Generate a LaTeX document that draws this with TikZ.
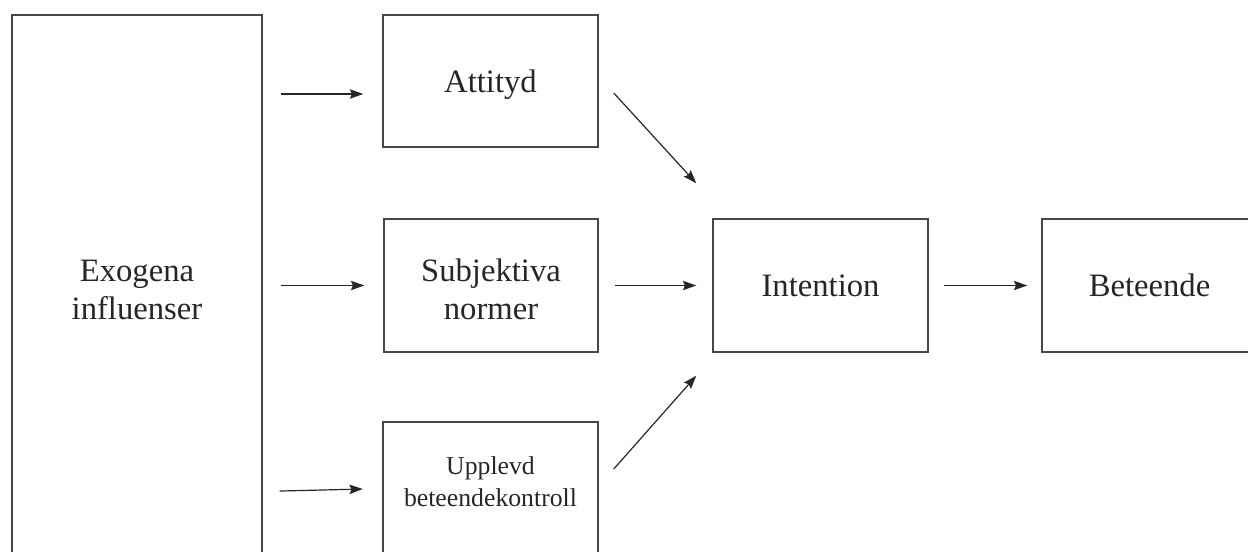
\documentclass[tikz,border=0pt]{standalone}
\usepackage{fontspec}
\setmainfont{Liberation Serif}
\usetikzlibrary{arrows.meta}
\tikzset{
  box/.style={draw=black!72, line width=1.1pt, rectangle, align=center, inner sep=0pt,
    font=\fontsize{24.5}{28.5}\selectfont, text=black!85},
  arr/.style={draw=black!85, line width=0.9pt, -{Stealth[length=10pt,width=7pt,inset=1.5pt]}},
}
\begin{document}
\begin{tikzpicture}[x=0.75pt,y=-0.75pt]
\useasboundingbox (0,0) rectangle (1248,552);
\clip (0,0) rectangle (1248,552);
\node[box, minimum width=187.5pt, minimum height=412.5pt] (exo) at (137,290) {Exogena\\influenser};
\node[box, minimum width=161.25pt, minimum height=99pt, text depth=0pt] (att) at (490.5,81) {Attityd};
\node[box, minimum width=160.5pt, minimum height=99.75pt] (subj) at (491,285.5) {\rule{0pt}{23pt}Subjektiva\\normer};
\node[box, minimum width=161.25pt, minimum height=99.75pt, font=\fontsize{19.3}{24.3}\selectfont, text depth=10pt] (upp) at (490.5,488.5) {Upplevd\\beteendekontroll};
\node[box, minimum width=161.25pt, minimum height=99.75pt] (int) at (820.5,285.5) {Intention};
\node[box, minimum width=161.25pt, minimum height=99.75pt] (bet) at (1149.5,285.5) {Beteende};

\draw[arr] ([shift={(13.5pt,-9.75pt)}]exo.east |- att.west) -- ([shift={(-14.25pt,-9.75pt)}]att.west);
\draw[arr, shorten <=13.5pt, shorten >=14.25pt] (exo.east |- subj.west) -- (subj.west);
\draw[arr] ([shift={(12.75pt,-1.9pt)}]exo.east |- upp.west) -- ([shift={(-14.6pt,-0.4pt)}]upp.west);
\draw[arr] ([shift={(11.25pt,-9pt)}]att.east) -- ([shift={(-12pt,26.25pt)}]int.north west);
\draw[arr, shorten <=12pt, shorten >=12pt] (subj.east) -- (int.west);
\draw[arr] ([shift={(11.25pt,14.6pt)}]upp.east) -- ([shift={(-12pt,-17.25pt)}]int.south west);
\draw[arr, shorten <=11.25pt, shorten >=10.5pt] (int.east) -- (bet.west);
\end{tikzpicture}
\end{document}
